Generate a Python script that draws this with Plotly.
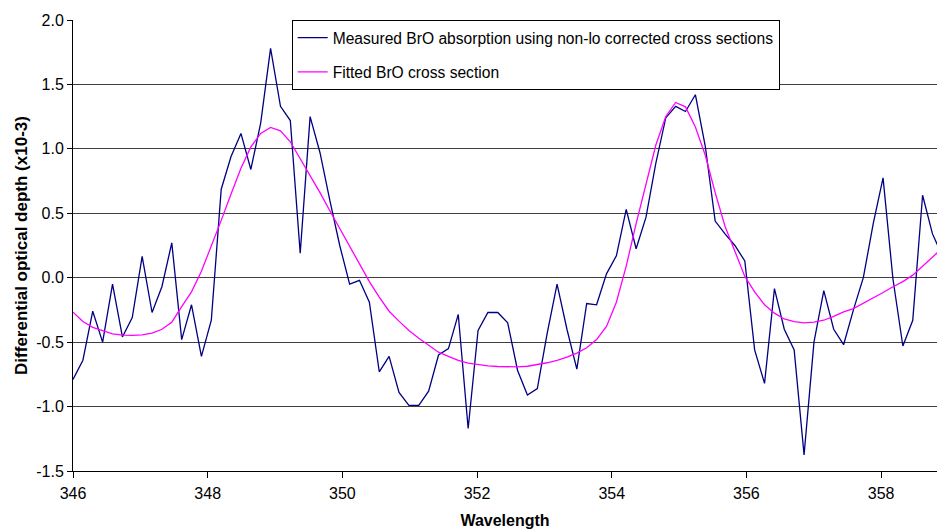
import plotly.graph_objects as go

wavelength = [
    346.000, 346.147, 346.293, 346.440, 346.587, 346.734, 346.880, 347.027, 347.174, 347.320,
    347.467, 347.614, 347.760, 347.907, 348.054, 348.201, 348.347, 348.494, 348.641, 348.787,
    348.934, 349.081, 349.227, 349.374, 349.521, 349.668, 349.814, 349.961, 350.108, 350.254,
    350.401, 350.548, 350.694, 350.841, 350.988, 351.135, 351.281, 351.428, 351.575, 351.721,
    351.868, 352.015, 352.161, 352.308, 352.455, 352.602, 352.748, 352.895, 353.042, 353.188,
    353.335, 353.482, 353.628, 353.775, 353.922, 354.069, 354.215, 354.362, 354.509, 354.655,
    354.802, 354.949, 355.095, 355.242, 355.389, 355.536, 355.682, 355.829, 355.976, 356.122,
    356.269, 356.416, 356.562, 356.709, 356.856, 357.003, 357.149, 357.296, 357.443, 357.589,
    357.736, 357.883, 358.029, 358.176, 358.323, 358.470, 358.616, 358.763, 358.910,
]

measured = [
    -0.79, -0.64, -0.26, -0.50, -0.05, -0.46, -0.31, 0.166, -0.27, -0.07,
    0.27, -0.48, -0.21, -0.61, -0.33, 0.687, 0.94, 1.12, 0.84, 1.20,
    1.78, 1.33, 1.22, 0.19, 1.25, 0.97, 0.60, 0.25, -0.05, -0.02,
    -0.19, -0.73, -0.61, -0.89, -0.99, -0.99, -0.88, -0.60, -0.55, -0.285,
    -1.17, -0.41, -0.27, -0.27, -0.35, -0.72, -0.91, -0.86, -0.43, -0.05,
    -0.40, -0.71, -0.20, -0.21, 0.03, 0.17, 0.53, 0.225, 0.47, 0.89,
    1.24, 1.33, 1.29, 1.42, 1.02, 0.44, 0.34, 0.25, 0.13, -0.56,
    -0.82, -0.085, -0.40, -0.56, -1.375, -0.50, -0.10, -0.40, -0.52, -0.25,
    0.0, 0.42, 0.775, -0.01, -0.53, -0.33, 0.64, 0.34, 0.17,
]

fitted = [
    -0.267, -0.34, -0.385, -0.41, -0.435, -0.445, -0.448, -0.443, -0.43, -0.40,
    -0.345, -0.225, -0.11, 0.05, 0.24, 0.445, 0.65, 0.85, 1.015, 1.12,
    1.166, 1.14, 1.055, 0.925, 0.79, 0.66, 0.52, 0.38, 0.25, 0.11,
    -0.03, -0.15, -0.26, -0.337, -0.41, -0.47, -0.526, -0.578, -0.61, -0.642,
    -0.663, -0.676, -0.684, -0.689, -0.692, -0.692, -0.687, -0.674, -0.66, -0.642,
    -0.617, -0.585, -0.544, -0.48, -0.378, -0.19, 0.09, 0.42, 0.72, 1.03,
    1.25, 1.36, 1.326, 1.17, 0.95, 0.66, 0.40, 0.20, 0.01, -0.11,
    -0.21, -0.275, -0.32, -0.34, -0.35, -0.345, -0.33, -0.30, -0.265, -0.24,
    -0.20, -0.155, -0.115, -0.07, -0.03, 0.02, 0.09, 0.16, 0.23,
]

x_ticks = [346, 348, 350, 352, 354, 356, 358]
y_ticks = [-1.5, -1.0, -0.5, 0.0, 0.5, 1.0, 1.5, 2.0]

FONT = "Liberation Sans, Arial, sans-serif"

fig = go.Figure()
fig.add_trace(go.Scatter(
    x=wavelength, y=measured, mode="lines",
    name="Measured BrO absorption using non-lo corrected cross sections",
    line=dict(color="#000080", width=1.3), legendgroup="a",
))
fig.add_trace(go.Scatter(
    x=wavelength, y=fitted, mode="lines",
    name="Fitted BrO cross section",
    line=dict(color="#FF00FF", width=1.3), legendgroup="b",
))

fig.update_layout(
    width=937, height=529,
    margin=dict(l=73, r=0, t=20, b=58),
    paper_bgcolor="white", plot_bgcolor="white",
    font=dict(family=FONT, size=16, color="black"),
    showlegend=True,
    legend=dict(
        x=0.2531, y=1, xanchor="left", yanchor="top",
        bgcolor="white", bordercolor="black", borderwidth=1,
        font=dict(family=FONT, size=15.6, color="black"),
        tracegroupgap=11, traceorder="grouped",
    ),
    xaxis=dict(
        range=[346, 358.83], tickvals=x_ticks, ticktext=[str(v) for v in x_ticks],
        showgrid=False, zeroline=False,
        showline=True, linecolor="black", linewidth=1,
        ticks="outside", ticklen=6, tickcolor="black",
        ticklabelstandoff=2,
        tickfont=dict(family=FONT, size=16),
        title=dict(text="<b>Wavelength</b>", font=dict(family=FONT, size=16), standoff=13),
    ),
    yaxis=dict(
        range=[-1.5, 2.0], tickvals=y_ticks, ticktext=["%.1f" % v for v in y_ticks],
        showgrid=True, gridcolor="#404040", gridwidth=1, zeroline=False,
        showline=True, linecolor="black", linewidth=1,
        ticks="outside", ticklen=5, tickcolor="black",
        tickfont=dict(family=FONT, size=16),
        title=dict(text="<b>Differential optical depth (x10-3)</b>", font=dict(family=FONT, size=17), standoff=4),
    ),
)

fig.write_html("out.html")
